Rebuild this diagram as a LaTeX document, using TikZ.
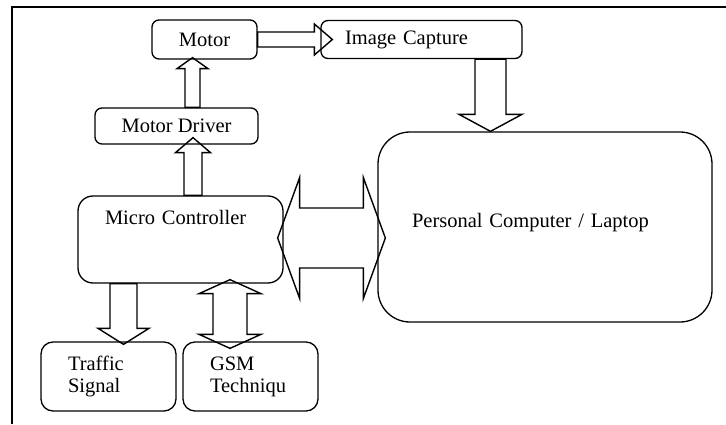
\documentclass[tikz,border=0pt]{standalone}
\usepackage{fontspec}
\setmainfont{Liberation Serif}
\usepackage{tikz}
\usetikzlibrary{calc}
\tikzstyle{box}=[draw, line width=1.3pt, rounded corners=7pt, inner sep=0pt, font=\fontsize{20.5pt}{22pt}\selectfont]
\tikzstyle{blk}=[draw, line width=1.4pt]
\newcommand{\fatarrow}[5]{%
  \coordinate (ftail) at (#1);
  \coordinate (ftip) at (#2);
  \path ($(ftip)!#5pt!(ftail)$) coordinate (fbase);
  \draw[blk] ($(ftail)!#3pt!90:(ftip)$) -- ($(fbase)!#3pt!90:(ftip)$) -- ($(fbase)!#4pt!90:(ftip)$) -- (ftip)
    -- ($(fbase)!#4pt!-90:(ftip)$) -- ($(fbase)!#3pt!-90:(ftip)$) -- ($(ftail)!#3pt!-90:(ftip)$) -- cycle;
}
\newcommand{\fatdarrow}[5]{%
  \coordinate (fa) at (#1);
  \coordinate (fb) at (#2);
  \path ($(fa)!#5pt!(fb)$) coordinate (fha) ($(fb)!#5pt!(fa)$) coordinate (fhb);
  \draw[blk] (fa) -- ($(fha)!#4pt!90:(fb)$) -- ($(fha)!#3pt!90:(fb)$) -- ($(fhb)!#3pt!-90:(fa)$) -- ($(fhb)!#4pt!-90:(fa)$) -- (fb)
    -- ($(fhb)!#4pt!90:(fa)$) -- ($(fhb)!#3pt!90:(fa)$) -- ($(fha)!#3pt!-90:(fb)$) -- ($(fha)!#4pt!-90:(fb)$) -- cycle;
}

\begin{document}
\begin{tikzpicture}[x=1pt,y=1pt,node distance=217pt]
        \useasboundingbox (0,0) rectangle (726,424);
        \draw[line width=2.5pt] (12,0) -- (12,417) -- (726,417);

        \node [box, minimum width=105pt, minimum height=39pt] (motor) at (204.5,384.5) {Motor};
        \node [box, minimum height=38pt, inner xsep=24pt, text width=153pt, align=left] (imgcap) [right of=motor] {Image Capture};
        \node [box, minimum width=163pt, minimum height=36pt] (mdrv) at (176.5,298) {Motor Driver};
        \node [box, rounded corners=15pt, inner xsep=27pt, text width=151pt, align=left, text height=28pt, text depth=59pt] (micro) at (180.5,184.5) {Micro Controller};
        \node [box, rounded corners=32pt, minimum height=190pt, inner xsep=34pt, text width=266pt, align=left, text height=10pt, text depth=10pt] (pc) at (545,197) {Personal Computer / Laptop};
        \node [box, rounded corners=12pt, minimum height=69pt, inner xsep=27pt, text width=81pt, align=left] (traffic) at (108.5,47.5) {Traffic\\Signal};
        \node [box, rounded corners=12pt, minimum height=69pt, inner xsep=27pt, text width=81pt, align=left] (gsm) [right of=traffic, node distance=142pt] {GSM\\Techniqu};

        \fatarrow{motor.east}{[xshift=12pt]imgcap.west}{7.5}{15.5}{18}
        \fatarrow{[xshift=16pt]mdrv.north}{[xshift=-12pt,yshift=2pt]motor.south}{7.5}{15.5}{11}
        \fatarrow{[xshift=12.5pt]micro.north}{[xshift=16.5pt,yshift=7pt]mdrv.south}{9}{17.5}{15}
        \fatarrow{[xshift=69pt]imgcap.south}{[xshift=-54.5pt]pc.north}{15.5}{31.5}{17}
        \fatdarrow{[xshift=-6pt,yshift=1.5pt]micro.east}{[xshift=8pt,yshift=-11pt]pc.west}{30}{60.5}{22}
        \fatarrow{[xshift=-57pt]micro.south}{[xshift=15pt,yshift=-3pt]traffic.north}{13.5}{25.5}{16}
        \fatdarrow{[xshift=49.5pt,yshift=4pt]micro.south}{[xshift=-20.5pt,yshift=-7pt]gsm.north}{17}{31}{14}
\end{tikzpicture}
\end{document}
